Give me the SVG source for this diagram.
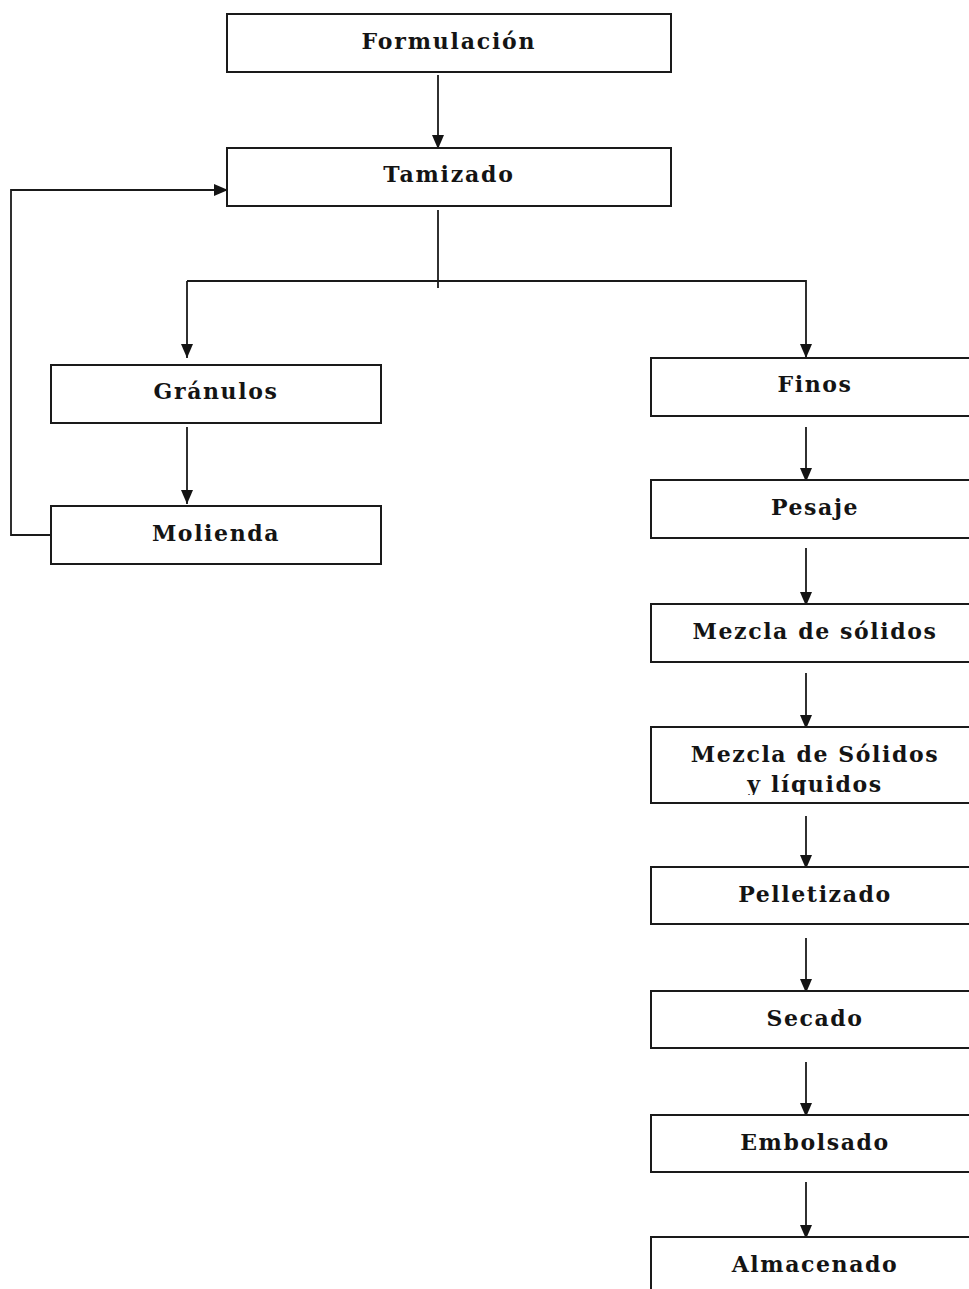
<svg xmlns="http://www.w3.org/2000/svg" width="969" height="1289" viewBox="0 0 969 1289">
<defs>
<style>
.box{fill:#fff;stroke:#1a1a1a;stroke-width:2}
.lbl{font-family:"DejaVu Serif","Liberation Serif",serif;font-weight:bold;font-size:22px;fill:#141414;text-anchor:middle;letter-spacing:1.6px}
.nar{letter-spacing:1.8px}
.ln{fill:none;stroke:#1a1a1a;stroke-width:1.8}
</style>
<marker id="ah" viewBox="0 0 14 12" refX="14" refY="6" markerWidth="14" markerHeight="12" markerUnits="userSpaceOnUse" orient="auto">
<path d="M0,0 L14,6 L0,12 Z" fill="#141414"/>
</marker>
<clipPath id="clipY"><rect x="651" y="727" width="318" height="68"/></clipPath>
</defs>
<rect width="969" height="1289" fill="#fff"/>
<g id="connectors">
<line class="ln" x1="438" y1="75" x2="438" y2="149" marker-end="url(#ah)"/>
<line class="ln" x1="438" y1="210" x2="438" y2="288"/>
<polyline class="ln" points="187,281 806,281 806,358" marker-end="url(#ah)"/>
<line class="ln" x1="187" y1="281" x2="187" y2="358" marker-end="url(#ah)"/>
<line class="ln" x1="187" y1="427" x2="187" y2="504" marker-end="url(#ah)"/>
<polyline class="ln" points="51,535 11,535 11,190 228,190" marker-end="url(#ah)"/>
<line class="ln" x1="806" y1="427" x2="806" y2="482" marker-end="url(#ah)"/>
<line class="ln" x1="806" y1="548" x2="806" y2="606" marker-end="url(#ah)"/>
<line class="ln" x1="806" y1="673" x2="806" y2="729" marker-end="url(#ah)"/>
<line class="ln" x1="806" y1="816" x2="806" y2="869" marker-end="url(#ah)"/>
<line class="ln" x1="806" y1="938" x2="806" y2="993" marker-end="url(#ah)"/>
<line class="ln" x1="806" y1="1062" x2="806" y2="1117" marker-end="url(#ah)"/>
<line class="ln" x1="806" y1="1182" x2="806" y2="1239" marker-end="url(#ah)"/>
</g>
<g id="formulacion"><rect class="box" x="227" y="14" width="444" height="58"/><text class="lbl nar" x="449" y="49">Formulación</text></g>
<g id="tamizado"><rect class="box" x="227" y="148" width="444" height="58"/><text class="lbl nar" x="449" y="182">Tamizado</text></g>
<g id="granulos"><rect class="box" x="51" y="365" width="330" height="58"/><text class="lbl" x="216" y="399">Gránulos</text></g>
<g id="molienda"><rect class="box" x="51" y="506" width="330" height="58"/><text class="lbl" x="216" y="541">Molienda</text></g>
<g id="finos"><rect class="box" x="651" y="358" width="330" height="58"/><text class="lbl" x="815" y="392">Finos</text></g>
<g id="pesaje"><rect class="box" x="651" y="480" width="330" height="58"/><text class="lbl" x="815" y="515">Pesaje</text></g>
<g id="mezcla-solidos"><rect class="box" x="651" y="604" width="330" height="58"/><text class="lbl" x="815" y="639">Mezcla de sólidos</text></g>
<g id="mezcla-solidos-liquidos"><rect class="box" x="651" y="727" width="330" height="76"/><text class="lbl" x="815" y="762">Mezcla de Sólidos</text><text class="lbl" x="815" y="792" clip-path="url(#clipY)">y líquidos</text></g>
<g id="pelletizado"><rect class="box" x="651" y="867" width="330" height="57"/><text class="lbl" x="815" y="902">Pelletizado</text></g>
<g id="secado"><rect class="box" x="651" y="991" width="330" height="57"/><text class="lbl" x="815" y="1026">Secado</text></g>
<g id="embolsado"><rect class="box" x="651" y="1115" width="330" height="57"/><text class="lbl" x="815" y="1150">Embolsado</text></g>
<g id="almacenado"><rect class="box" x="651" y="1237" width="330" height="70"/><text class="lbl" x="815" y="1272">Almacenado</text></g>
</svg>
